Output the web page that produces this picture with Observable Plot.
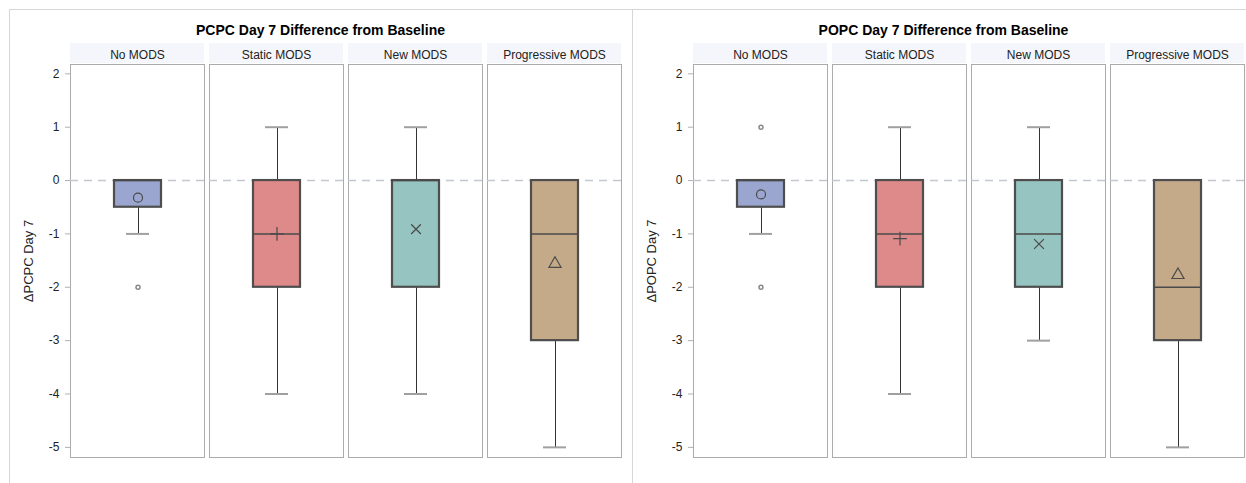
<!DOCTYPE html>
<html><head><meta charset="utf-8">
<script src="https://cdn.jsdelivr.net/npm/d3@7"></script>
<script src="https://cdn.jsdelivr.net/npm/@observablehq/plot@0.6"></script>
<style>
html,body{margin:0;padding:0;background:#fff;overflow:hidden;width:1246px;height:483px;font-family:"Liberation Sans",Arial,sans-serif;}
.panel{position:absolute;top:9px;height:474px;width:623px;}
.title{position:absolute;top:13px;left:0;width:623px;text-align:center;font-weight:bold;font-size:14px;line-height:17px;color:#000;}
.plot{position:absolute;top:34px;left:0;}
.vline{position:absolute;top:9px;width:1px;height:474px;background:#d6d6d6;}
.hline{position:absolute;top:9px;left:9px;width:1237px;height:1px;background:#d6d6d6;}
</style></head><body>
<div class="hline"></div>
<div class="vline" style="left:9px"></div>
<div class="vline" style="left:632px"></div>
<div class="panel" id="p1" style="left:9px"><div class="title">PCPC Day 7 Difference from Baseline</div><div class="plot"></div></div>
<div class="panel" id="p2" style="left:632px"><div class="title">POPC Day 7 Difference from Baseline</div><div class="plot"></div></div>
<script>
// ---- data ----
const categories = ["No MODS", "Static MODS", "New MODS", "Progressive MODS"];
const boxColors = ["#9aa6cf", "#df8a8a", "#96c4c0", "#c5aa8a"];
const meanSymbols = ["circle", "plus", "times", "triangle"];
const yTicks = [-5, -4, -3, -2, -1, 0, 1, 2];
const refLine = [0];

const pcpcQ1 = [-0.5, -2, -2, -3];
const pcpcQ3 = [0, 0, 0, 0];
const pcpcMedian = [0, -1, 0, -1];
const pcpcMean = [-0.32, -1.0, -0.91, -1.56];
const pcpcLow = [-1, -4, -4, -5];
const pcpcHigh = [0, 1, 1, 0];
const pcpcOutlierCat = ["No MODS"];
const pcpcOutlierVal = [-2];

const popcQ1 = [-0.5, -2, -2, -3];
const popcQ3 = [0, 0, 0, 0];
const popcMedian = [0, -1, -1, -2];
const popcMean = [-0.26, -1.09, -1.19, -1.77];
const popcLow = [-1, -4, -3, -5];
const popcHigh = [0, 1, 1, 0];
const popcOutlierCat = ["No MODS", "No MODS"];
const popcOutlierVal = [1, -2];

const yMin = -5.19, yMax = 2.175;

function makeChart(target, label, q1, q3, med, mean, low, high, oCat, oVal) {
  const rows = categories.map((c, i) => ({cat: c, q1: q1[i], q3: q3[i], med: med[i], mean: mean[i], low: low[i], high: high[i]}));
  const outliers = oCat.map((c, i) => ({cat: c, v: oVal[i]}));
  const height = 440, mt = 21, mb = 26;
  const k = (height - mt - mb) / (yMax - yMin);
  const key = () => "v";
  const chart = Plot.plot({
    width: 623, height, marginLeft: 60, marginRight: 11, marginTop: mt, marginBottom: mb,
    style: {fontFamily: '"Liberation Sans", Arial, sans-serif', fontSize: "12px", color: "#333", background: "transparent"},
    fx: {domain: categories, paddingInner: 0.038, paddingOuter: 0},
    x: {type: "band", domain: ["v"], padding: 0.48, axis: null},
    y: {domain: [yMin, yMax]},
    color: {domain: categories, range: boxColors},
    symbol: {domain: categories, range: meanSymbols},
    marks: [
      Plot.rect(rows, {fx: "cat", y1: yMax + 1 / k, y2: yMax + (mt) / k, fill: "#f4f6fb"}),
      Plot.frame({stroke: "#ababab"}),
      Plot.ruleY(refLine, {stroke: "#c3c7cf", strokeWidth: 1.5, strokeDasharray: "8,6"}),
      Plot.ruleX(rows.filter(d => d.low < d.q1), {fx: "cat", x: key, y1: "low", y2: "q1", stroke: "#333", shapeRendering: "crispEdges"}),
      Plot.ruleX(rows.filter(d => d.high > d.q3), {fx: "cat", x: key, y1: "q3", y2: "high", stroke: "#333", shapeRendering: "crispEdges"}),
      Plot.tickY(rows.filter(d => d.low < d.q1), {fx: "cat", x: key, y: "low", stroke: "#a0a0a0", strokeWidth: 2, insetLeft: 12, insetRight: 12}),
      Plot.tickY(rows.filter(d => d.high > d.q3), {fx: "cat", x: key, y: "high", stroke: "#a0a0a0", strokeWidth: 2, insetLeft: 12, insetRight: 12}),
      Plot.barY(rows, {fx: "cat", x: key, y1: "q1", y2: "q3", fill: "cat", stroke: "#4e4e4e", strokeWidth: 2.2}),
      Plot.tickY(rows, {fx: "cat", x: key, y: "med", stroke: "#4a4a4a", strokeWidth: 1.5}),
      Plot.dot(rows, {fx: "cat", x: key, y: "mean", symbol: "cat", r: 4.5, stroke: "#4a4a4a", strokeWidth: 1.2, fill: "none"}),
      Plot.dot(outliers, {fx: "cat", x: key, y: "v", r: 2, stroke: "#888", fill: "white"}),
      Plot.axisY({ticks: yTicks, tickFormat: d => String(d), tickSize: 5, tickPadding: 6, stroke: "#b0b0b0", fill: "#222",
                  label: null}),
      Plot.axisY({ticks: [], tickSize: 0, fill: "#222", fontSize: 13,
                  label, labelAnchor: "center", labelOffset: 47, labelArrow: "none"}),
      Plot.axisFx({anchor: "top", tickSize: 0, tickPadding: 6, label: null, fill: "#222", fontSize: 12})
    ]
  });
  document.querySelector(target + " .plot").appendChild(chart);
}

makeChart("#p1", "ΔPCPC Day 7", pcpcQ1, pcpcQ3, pcpcMedian, pcpcMean, pcpcLow, pcpcHigh, pcpcOutlierCat, pcpcOutlierVal);
makeChart("#p2", "ΔPOPC Day 7", popcQ1, popcQ3, popcMedian, popcMean, popcLow, popcHigh, popcOutlierCat, popcOutlierVal);
</script>
</body></html>
